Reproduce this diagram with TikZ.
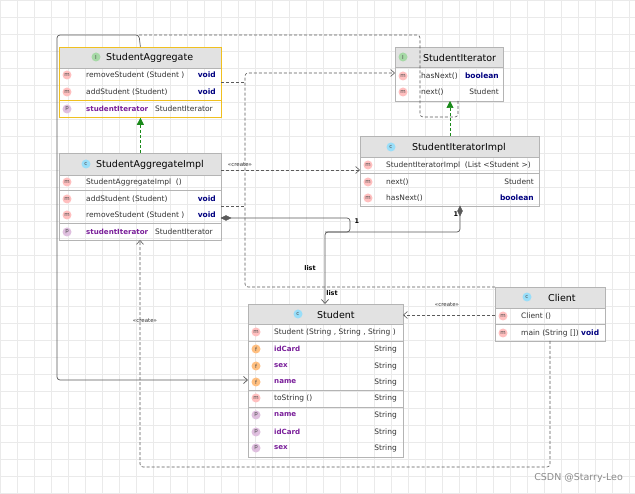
\documentclass[tikz,border=0pt]{standalone}
\usepackage{fontspec}
\setmainfont{DejaVu Sans}
\usetikzlibrary{arrows.meta}
\definecolor{hdr}{HTML}{E2E2E2}
\definecolor{bord}{HTML}{B4B4B4}
\definecolor{ybord}{HTML}{F0C020}
\definecolor{kw}{HTML}{000080}
\definecolor{prop}{HTML}{7A1F9A}
\definecolor{txt}{HTML}{333333}
\definecolor{ln}{HTML}{5A5A5A}
\definecolor{grn}{HTML}{1A8A1A}
\definecolor{gridc}{HTML}{EAEAEA}
\begin{document}
\begin{tikzpicture}[x=1pt,y=-1pt,
  box/.style={draw=bord,line width=0.8pt,anchor=north west,inner sep=0pt},
  title/.style={font=\fontsize{9.5}{10}\selectfont,text=black,inner sep=0pt},
  row/.style={font=\fontsize{7.5}{8}\selectfont,text=txt,anchor=west,inner sep=0pt},
  prp/.style={row,text=prop,font=\fontsize{7.1}{8}\selectfont\bfseries},
  typ/.style={font=\fontsize{7.5}{8}\selectfont,text=txt,anchor=east,inner sep=0pt},
  kwd/.style={typ,text=kw,font=\fontsize{7.5}{8}\selectfont\bfseries},
  ico/.style={circle,fill=#1,inner sep=0pt,minimum size=9pt,font=\fontsize{5.5}{5.5}\selectfont,text=black!70},
  dep/.style={draw=ln,dashed,dash pattern=on 3pt off 2pt,line width=0.6pt,rounded corners=3pt},
  asc/.style={draw=ln,line width=0.7pt,rounded corners=3pt},
  open/.style={-{Straight Barb[length=4pt,width=7pt]}},
  real/.style={draw=grn,dashed,dash pattern=on 3pt off 2pt,line width=0.7pt,-{Triangle[length=7pt,width=7pt,fill=grn]}},
  st/.style={font=\fontsize{5.5}{5.5}\selectfont,text=black!80,inner sep=0pt},
  lb/.style={font=\fontsize{6.5}{6.5}\selectfont\bfseries,text=black,inner sep=0pt}]
\useasboundingbox (0,0) rectangle (635,494);
\fill[white] (0,0) rectangle (635,494);
\foreach \i in {0,...,38} {\draw[gridc,line width=0.4pt] (\i*17,0) -- (\i*17,494);}
\foreach \j in {0,...,29} {\draw[gridc,line width=0.4pt] (0,\j*17) -- (635,\j*17);}

\newcommand\hd[5]{\fill[hdr] (#1,#2) rectangle (#3,#4); \draw[bord,line width=0.6pt] (#1,#4) -- (#3,#4);}
\newcommand\sep[3]{\draw[bord,line width=0.6pt] (#1,#3) -- (#2,#3);}
% ---------- StudentAggregate
\hd{59}{47}{221}{68}{}
\node[box,draw=ybord,minimum width=162pt,minimum height=70pt] (sa) at (59,47) {};
\node[ico=green!40!gray!50] (saI) at (96,57) {I};
\node[title,anchor=west] (saT) at (106,57.5) {StudentAggregate};
\node[ico=red!25] (sa1i) at (67,75) {m}; \node[row] (sa1) at (86,75) {removeStudent (Student )}; \node[kwd] (sa1t) at (216,75) {void};
\node[ico=red!25] (sa2i) at (67,92) {m}; \node[row] (sa2) at (86,92) {addStudent (Student)}; \node[kwd] (sa2t) at (216,92) {void};
\draw[ybord,line width=0.6pt] (59,100) -- (221,100);
\node[ico=violet!25] (sa3i) at (67,109) {p}; \node[prp] (sa3) at (86,109) {studentIterator}; \node[row] (sa3t) at (155,109) {StudentIterator};
% ---------- StudentAggregateImpl
\hd{59}{153}{221}{175}{}
\node[box,minimum width=162pt,minimum height=87pt] (sai) at (59,153) {};
\node[ico=cyan!40] (saiC) at (86,164) {c};
\node[title,anchor=west] (saiT) at (96,164.5) {StudentAggregateImpl};
\node[ico=red!25] (sai1i) at (67,182) {m}; \node[row] (sai1) at (86,182) {StudentAggregateImpl\ \ ()};
\sep{59}{221}{190}
\node[ico=red!25] (sai2i) at (67,199) {m}; \node[row] (sai2) at (86,199) {addStudent (Student)}; \node[kwd] (sai2t) at (216,199) {void};
\node[ico=red!25] (sai3i) at (67,215) {m}; \node[row] (sai3) at (86,215) {removeStudent (Student )}; \node[kwd] (sai3t) at (216,215) {void};
\sep{59}{221}{223}
\node[ico=violet!25] (sai4i) at (67,232) {p}; \node[prp] (sai4) at (86,232) {studentIterator}; \node[row] (sai4t) at (155,232) {StudentIterator};
% ---------- StudentIterator
\hd{395}{47}{503}{67}{}
\node[box,minimum width=108pt,minimum height=54pt] (si) at (395,47) {};
\node[ico=green!40!gray!50] (siI) at (403,57) {I};
\node[title,anchor=west] (siT) at (423,57.5) {StudentIterator};
\node[ico=red!25] (si1i) at (403,76) {m}; \node[row] (si1) at (421,76) {hasNext()}; \node[kwd] (si1t) at (499,76) {boolean};
\node[ico=red!25] (si2i) at (403,92) {m}; \node[row] (si2) at (421,92) {next()}; \node[typ] (si2t) at (499,92) {Student};
% ---------- StudentIteratorImpl
\hd{360}{136}{539}{157}{}
\node[box,minimum width=179pt,minimum height=70pt] (sii) at (360,136) {};
\node[ico=cyan!40] (siiC) at (391,147) {c};
\node[title,anchor=west] (siiT) at (412,147.5) {StudentIteratorImpl};
\node[ico=red!25] (sii1i) at (368,165) {m}; \node[row] (sii1) at (386,165) {StudentIteratorImpl\ \ (List <Student >)};
\sep{360}{539}{173}
\node[ico=red!25] (sii2i) at (368,182) {m}; \node[row] (sii2) at (386,182) {next()}; \node[typ] (sii2t) at (534,182) {Student};
\node[ico=red!25] (sii3i) at (368,198) {m}; \node[row] (sii3) at (386,198) {hasNext()}; \node[kwd] (sii3t) at (534,198) {boolean};
% ---------- Student
\hd{248}{304}{403}{324}{}
\node[box,minimum width=155pt,minimum height=153pt] (st) at (248,304) {};
\node[ico=cyan!40] (stC) at (298,314) {c};
\node[title,anchor=west] (stT) at (317,314.5) {Student};
\node[ico=red!25] (st1i) at (256,332) {m}; \node[row] (st1) at (274,332) {Student (String , String , String )};
\sep{248}{403}{341}
\node[ico=orange!50] (st2i) at (256,349) {f}; \node[prp] (st2) at (274,349) {idCard}; \node[typ] (st2t) at (397,349) {String};
\node[ico=orange!50] (st3i) at (256,366) {f}; \node[prp] (st3) at (274,366) {sex}; \node[typ] (st3t) at (397,366) {String};
\node[ico=orange!50] (st4i) at (256,382) {f}; \node[prp] (st4) at (274,382) {name}; \node[typ] (st4t) at (397,382) {String};
\sep{248}{403}{390}
\node[ico=red!25] (st5i) at (256,398) {m}; \node[row] (st5) at (274,398) {toString ()}; \node[typ] (st5t) at (397,398) {String};
\sep{248}{403}{407}
\node[ico=violet!25] (st6i) at (256,415) {p}; \node[prp] (st6) at (274,415) {name}; \node[typ] (st6t) at (397,415) {String};
\node[ico=violet!25] (st7i) at (256,432) {p}; \node[prp] (st7) at (274,432) {idCard}; \node[typ] (st7t) at (397,432) {String};
\node[ico=violet!25] (st8i) at (256,448) {p}; \node[prp] (st8) at (274,448) {sex}; \node[typ] (st8t) at (397,448) {String};
% ---------- Client
\hd{495}{287}{605}{308}{}
\node[box,minimum width=110pt,minimum height=54pt] (cl) at (495,287) {};
\node[ico=cyan!40] (clC) at (527,297) {c};
\node[title,anchor=west] (clT) at (548,297.5) {Client};
\node[ico=red!25] (cl1i) at (503,316) {m}; \node[row] (cl1) at (521,316) {Client ()};
\sep{495}{605}{324}
\node[ico=red!25] (cl2i) at (503,333) {m}; \node[row] (cl2) at (521,333) {main (String []) \textcolor{kw}{\bfseries void}};

% ---------- waypoints
\coordinate (pTopR) at (420,35);
\coordinate (pV) at (245,73);
\coordinate (pB) at (245,287);
\coordinate (pJ) at (325,232);
\coordinate (pLow) at (550,467);

% ---------- connectors
\draw[real] (sai.north) -- (sa.south);
\draw[real] (450,136) -- (450,101);
\draw[asc,open] (sa.north) -- (139,35) -| (57,380) -- (248,380);
\draw[dep] (139,35) -- (pTopR) -- (420,117) -- (458,117) -- (458,101);
\draw[dep] (221,82) -- (245,82);
\draw[dep] (221,206) -- (245,206);
\draw[dep,open] (cl.north west) -- (pB) -- (pV) -- (395,73);
\draw[dep,open] (221,170) -- (360,170);
\node[st] (c1) at (240,165) {«create»};
\draw[asc,-{Straight Barb[length=4pt,width=7pt]}] (221,218) -- (350,218) -- (350,232) -- (pJ) -- (325,304);
\draw[ln,fill=ln] (221,218) -- (226,215.5) -- (231,218) -- (226,220.5) -- cycle;
\draw[asc] (460,206) -- (460,232) -- (pJ);
\draw[ln,fill=ln] (460,206) -- (462.5,211) -- (460,216) -- (457.5,211) -- cycle;
\node[lb] (l1) at (357,221) {1};
\node[lb] (l2) at (456,214) {1};
\node[lb] (l3) at (310,268) {list};
\node[lb] (l4) at (332,293) {list};
\draw[dep,open] (495,315) -- (403,315);
\node[st] (c2) at (447,305) {«create»};
\draw[dep,open] (550,341) -- (pLow) -- (140,467) -- (140,240);
\node[st] (c3) at (145,321) {«create»};
\node[font=\fontsize{9.5}{9.5}\selectfont,text=black!45,anchor=east,inner sep=0pt] (wm) at (623,478) {CSDN @Starry-Leo};
\end{tikzpicture}
\end{document}
